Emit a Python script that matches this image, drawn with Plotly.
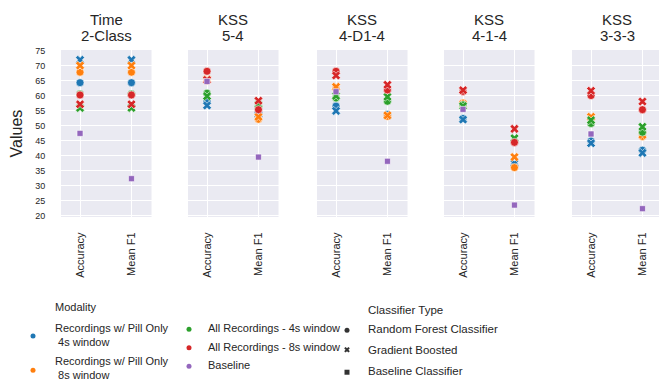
import plotly.graph_objects as go

W, H = 667, 387
OFF = 8  # browser body margin
FW, FH = W - OFF, H - OFF

panel_titles = [("Time", "2-Class"), ("KSS", "5-4"), ("KSS", "4-D1-4"), ("KSS", "4-1-4"), ("KSS", "3-3-3")]
metrics = ["Accuracy", "Mean F1"]
y_ticks = [20, 25, 30, 35, 40, 45, 50, 55, 60, 65, 70, 75]

modality_names = ["Recordings w/ Pill Only<br> 4s window", "Recordings w/ Pill Only<br> 8s window",
                  "All Recordings - 4s window", "All Recordings - 8s window", "Baseline"]
modality_colors = ["#1f77b4", "#ff7f0e", "#2ca02c", "#d62728", "#9467bd"]
classifier_names = ["Random Forest Classifier", "Gradient Boosted", "Baseline Classifier"]

# values per panel: [Accuracy, Mean F1]
pill4_rf = [[64.4, 64.4], [58.2, 54.2], [56.6, 53.8], [52.5, 36.8], [45.0, 41.9]]
pill4_gb = [[72.0, 72.0], [56.8, 53.8], [55.0, 53.5], [52.1, 37.5], [44.2, 41.0]]
pill8_rf = [[67.9, 67.9], [65.0, 52.2], [62.5, 53.2], [57.6, 36.1], [52.5, 46.5]]
pill8_gb = [[70.1, 70.1], [65.5, 53.0], [63.0, 53.5], [57.2, 39.6], [53.0, 47.0]]
all4_rf = [[60.6, 60.6], [60.9, 56.5], [59.3, 58.2], [57.0, 44.8], [50.8, 47.9]]
all4_gb = [[56.0, 56.0], [59.9, 57.1], [60.0, 59.7], [56.6, 45.9], [51.9, 49.7]]
all8_rf = [[60.3, 60.3], [68.2, 55.4], [68.2, 62.0], [61.5, 44.5], [60.1, 55.4]]
all8_gb = [[57.2, 57.2], [65.3, 58.4], [66.8, 63.7], [61.9, 49.0], [61.7, 58.1]]
baseline = [[47.5, 32.4], [64.8, 39.6], [61.4, 38.2], [55.5, 23.6], [47.3, 22.4]]

series = [
    (pill4_rf, 0, "circle"), (pill4_gb, 0, "x"),
    (pill8_rf, 1, "circle"), (pill8_gb, 1, "x"),
    (all4_rf, 2, "circle"), (all4_gb, 2, "x"),
    (all8_rf, 3, "circle"), (all8_gb, 3, "x"),
    (baseline, 4, "square"),
]


def px_x(px):
    return (px - OFF) / FW


def px_y(py):
    return 1 - (py - OFF) / FH


panel_left_px = [61, 188, 317, 444, 572]
panel_w_px = 90.5
plot_top_px, plot_bot_px = 46.8, 217.5

fig = go.Figure()
layout = dict(width=FW, height=FH, margin=dict(l=0, r=0, t=0, b=0),
              paper_bgcolor="white", plot_bgcolor="rgba(0,0,0,0)", showlegend=False,
              font=dict(family="Liberation Sans, Arial, sans-serif", color="#262626"))
shapes = []
annotations = []

for p in range(5):
    ax = "" if p == 0 else str(p + 1)
    x0 = px_x(panel_left_px[p])
    x1 = px_x(panel_left_px[p] + panel_w_px)
    layout["xaxis" + ax] = dict(
        domain=[x0, x1], range=[-0.37, 1.39], tickvals=[0, 1], ticktext=metrics,
        tickangle=-90, showgrid=True, gridcolor="white", gridwidth=1, zeroline=False,
        ticks="outside", ticklen=10, tickcolor="rgba(0,0,0,0)", showline=False,
        tickfont=dict(size=11, color="#262626"), anchor="y" + ax)
    layout["yaxis" + ax] = dict(
        domain=[px_y(plot_bot_px), px_y(plot_top_px)], range=[19.6, 75.3],
        tickvals=y_ticks, showticklabels=(p == 0), showgrid=True, gridcolor="white",
        gridwidth=1, zeroline=False, ticks="outside" if p == 0 else "", ticklen=13,
        tickcolor="rgba(0,0,0,0)", tickfont=dict(size=9, color="#262626"),
        anchor="x" + ax, matches="y" if p > 0 else None)
    shapes.append(dict(type="rect", xref="x" + ax + " domain", yref="y" + ax + " domain",
                       x0=0, x1=1, y0=0, y1=1, fillcolor="#EAEAF2", line=dict(width=0),
                       layer="below"))
    for line_text, line_y in zip(panel_titles[p], (16, 32.5)):
        annotations.append(dict(text=line_text, xref="paper", yref="paper",
                                x=(x0 + x1) / 2, y=px_y(line_y), xanchor="center",
                                yanchor="middle", showarrow=False,
                                font=dict(size=15, color="#262626")))
    for vals, mi, sym in series:
        size = {"circle": 8, "x": 8, "square": 6}[sym]
        fig.add_trace(go.Scatter(
            x=[0, 1], y=vals[p], mode="markers", xaxis="x" + ax, yaxis="y" + ax,
            marker=dict(symbol=sym, size=size, color=modality_colors[mi],
                        line=dict(color="white", width=0.6)),
            cliponaxis=False, hoverinfo="skip"))

layout["yaxis"]["title"] = dict(text="Values", font=dict(size=16, color="#262626"), standoff=12)

# legend overlay axis (pixel coordinates of the page)
layout["xaxis6"] = dict(domain=[0, 1], range=[OFF, W], visible=False, anchor="y6")
layout["yaxis6"] = dict(domain=[0, 1], range=[H, OFF], visible=False, anchor="x6")

mod_marker_pos = [(33, 339), (33, 374), (189, 332), (189, 351), (189, 370)]
mod_text_pos = [(53, 338), (53, 372), (206, 331), (206, 350), (206, 369)]
fig.add_trace(go.Scatter(
    x=[p[0] for p in mod_marker_pos], y=[p[1] for p in mod_marker_pos], mode="markers",
    xaxis="x6", yaxis="y6", marker=dict(symbol="circle", size=5, color=modality_colors),
    hoverinfo="skip"))
for name, (tx, ty) in zip(modality_names, mod_text_pos):
    annotations.append(dict(text=name, xref="x6", yref="y6", x=tx, y=ty, xanchor="left",
                            yanchor="middle", align="left", showarrow=False,
                            font=dict(size=11, color="#262626")))
annotations.append(dict(text="Modality", xref="x6", yref="y6", x=53, y=309, xanchor="left",
                        yanchor="middle", showarrow=False, font=dict(size=11, color="#262626")))

cls_marker_pos = [(347, 333), (347, 353), (347, 376)]
cls_symbols = ["circle", "x", "square"]
cls_text_pos = [(366, 332), (366, 353), (366, 375)]
fig.add_trace(go.Scatter(
    x=[p[0] for p in cls_marker_pos], y=[p[1] for p in cls_marker_pos], mode="markers",
    xaxis="x6", yaxis="y6", marker=dict(symbol=cls_symbols, size=5, color="#333333"),
    hoverinfo="skip"))
for name, (tx, ty) in zip(classifier_names, cls_text_pos):
    annotations.append(dict(text=name, xref="x6", yref="y6", x=tx, y=ty, xanchor="left",
                            yanchor="middle", showarrow=False,
                            font=dict(size=11.5, color="#262626")))
annotations.append(dict(text="Classifier Type", xref="x6", yref="y6", x=366, y=312,
                        xanchor="left", yanchor="middle", showarrow=False,
                        font=dict(size=11.5, color="#262626")))

layout["shapes"] = shapes
layout["annotations"] = annotations
fig.update_layout(**layout)
fig.write_html("out.html")
